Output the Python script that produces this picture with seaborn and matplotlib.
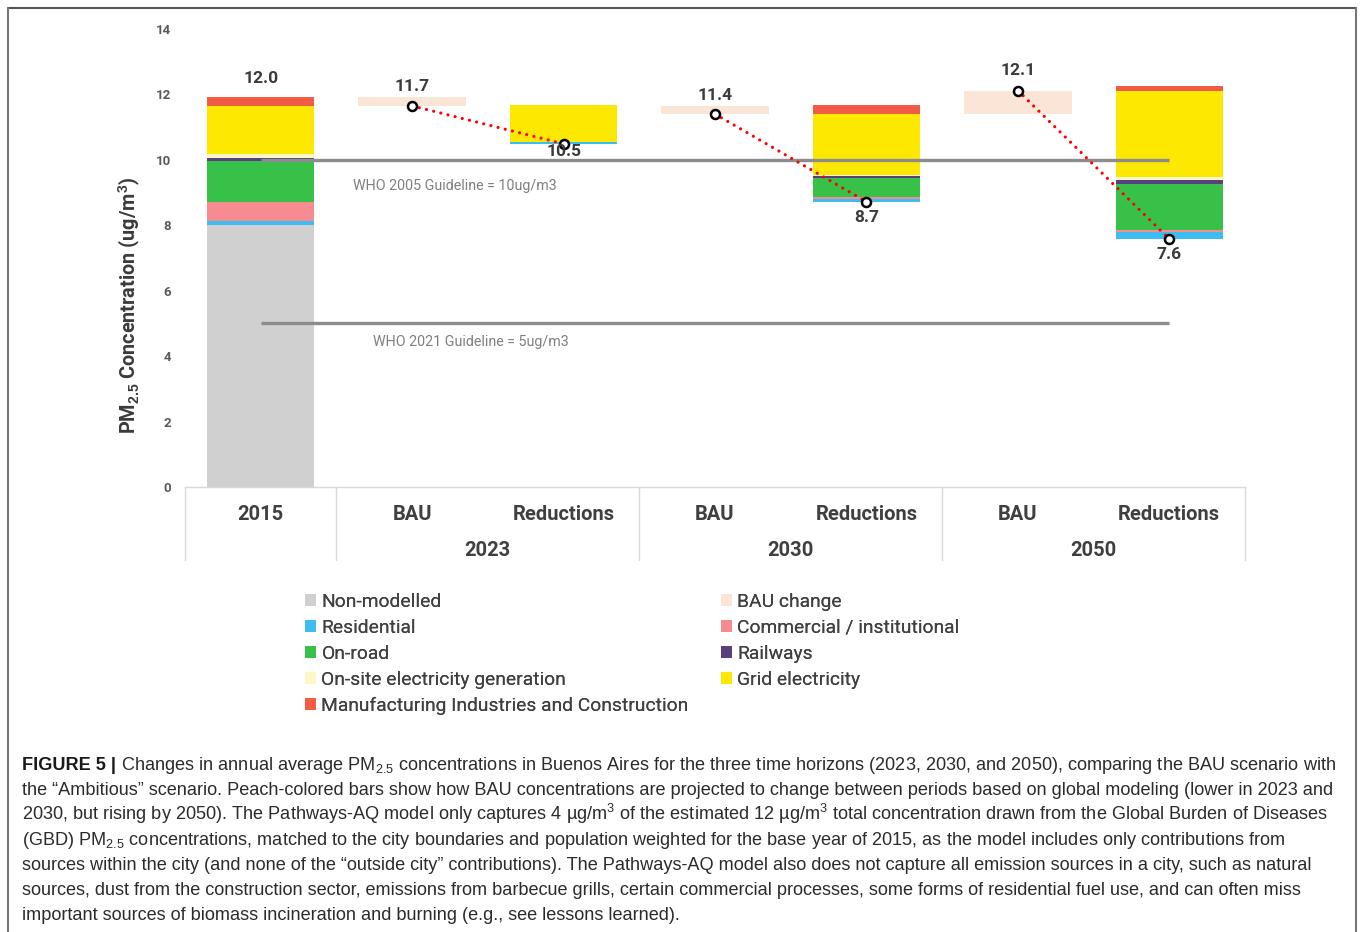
import matplotlib
matplotlib.use("Agg")
import matplotlib.pyplot as plt
import matplotlib.transforms as mtransforms
from matplotlib.patches import Patch
from matplotlib.lines import Line2D
import seaborn as sns
import numpy as np

# ---------------- data ----------------
categories = ["2015", "BAU 2023", "Reductions 2023", "BAU 2030",
              "Reductions 2030", "BAU 2050", "Reductions 2050"]
tick_labels = ["2015", "BAU", "Reductions", "BAU", "Reductions", "BAU", "Reductions"]
group_labels = ["2023", "2030", "2050"]

bar_base = [0.0, 11.65, 10.49, 11.40, 8.72, 11.40, 7.58]
non_modelled = [8.00, 0, 0, 0, 0, 0, 0]
bau_change = [0, 0.28, 0, 0.26, 0, 0.72, 0]
residential = [0.12, 0, 0.05, 0, 0.08, 0, 0.21]
commercial = [0.60, 0, 0.00, 0, 0.05, 0, 0.07]
on_road = [1.26, 0, 0.01, 0, 0.61, 0, 1.41]
railways = [0.07, 0, 0.00, 0, 0.05, 0, 0.12]
onsite = [0.13, 0, 0.00, 0, 0.02, 0, 0.08]
grid = [1.48, 0, 1.12, 0, 1.87, 0, 2.65]
manufacturing = [0.26, 0, 0.02, 0, 0.27, 0, 0.15]

scenario_cats = ["BAU 2023", "Reductions 2023", "BAU 2030",
                 "Reductions 2030", "BAU 2050", "Reductions 2050"]
scenario_values = [11.65, 10.49, 11.40, 8.72, 12.12, 7.58]
total_2015_label = "12.0"
scenario_labels = ["11.7", "10.5", "11.4", "8.7", "12.1", "7.6"]

guide_values = [10, 5]
guide_texts = ["WHO 2005 Guideline = 10ug/m3", "WHO 2021 Guideline = 5ug/m3"]

legend_names = ["Non-modelled", "Residential", "On-road", "On-site electricity generation",
                "Manufacturing Industries and Construction",
                "BAU change", "Commercial / institutional", "Railways", "Grid electricity"]

# ---------------- style ----------------
colors = {
    "Non-modelled": "#d0d0d0",
    "BAU change": "#fbe5d6",
    "Residential": "#3ebdf0",
    "Commercial / institutional": "#f68b92",
    "On-road": "#38c148",
    "Railways": "#59407c",
    "On-site electricity generation": "#fdf7c9",
    "Grid electricity": "#fce800",
    "Manufacturing Industries and Construction": "#f35c44",
}
stack = [("Non-modelled", non_modelled), ("BAU change", bau_change),
         ("Residential", residential), ("Commercial / institutional", commercial),
         ("On-road", on_road), ("Railways", railways),
         ("On-site electricity generation", onsite), ("Grid electricity", grid),
         ("Manufacturing Industries and Construction", manufacturing)]

sns.set_theme(style="white")
plt.rcParams["font.family"] = ["Roboto", "DejaVu Sans"]
plt.rcParams["mathtext.fontset"] = "custom"
plt.rcParams["mathtext.rm"] = "Liberation Sans"
plt.rcParams["mathtext.it"] = "Liberation Sans:italic"
plt.rcParams["mathtext.bf"] = "Liberation Sans:bold"

W, H = 1360, 932
fig = plt.figure(figsize=(W / 100, H / 100), dpi=100)
fig.patch.set_facecolor("white")
ax = fig.add_axes([185 / W, 1 - 487 / H, (1245 - 185) / W, (487 - 29) / H])

bottom = np.array(bar_base, dtype=float)
for name, vals in stack:
    sns.barplot(x=categories, y=vals, order=categories, color=colors[name],
                saturation=1, bottom=bottom, width=0.71, linewidth=0,
                errorbar=None, ax=ax, zorder=1)
    bottom = bottom + np.array(vals, dtype=float)

ax.set_xlim(-0.5, 6.5)
ax.set_ylim(0, 14)

# guideline lines
gtext_pos = [(0.61, 9.20), (0.74, 4.43)]
for gv, gt, (tx, ty) in zip(guide_values, guide_texts, gtext_pos):
    ax.hlines(gv, 0, 6, color="#8c8c8c", lw=2.4, zorder=3)
    ax.text(tx, ty, gt, fontsize=10.3, color="#7f7f7f", ha="left", va="center",
            family=["Roboto", "DejaVu Sans"])

# red dotted connectors and markers
xpos = [categories.index(c) for c in scenario_cats]
for i in range(0, 6, 2):
    ax.plot(xpos[i:i + 2], scenario_values[i:i + 2], color="#ff0000", lw=2.3,
            linestyle=(0, (0.01, 2.3)), dash_capstyle="round", zorder=4)
ax.plot(xpos, scenario_values, linestyle="none", marker="o", ms=6.5,
        mfc="white", mec="black", mew=1.8, zorder=5)

# value labels
lab_kw = dict(fontsize=12.5, fontweight="bold", color="#3a3a3a", ha="center", va="center",
              textcoords="offset points")
ax.annotate(total_2015_label, (0, bottom[0]), xytext=(0, 13.7), **lab_kw)
offsets = [13.7, -5.8, 13.7, -11.5, 14.4, -11.5]
for x, v, lab, off in zip(xpos, scenario_values, scenario_labels, offsets):
    ax.annotate(lab, (x, v), xytext=(0, off), zorder=6, **lab_kw)

# axes styling
for s in ["top", "right", "left"]:
    ax.spines[s].set_visible(False)
ax.spines["bottom"].set_color("#d9d9d9")
ax.spines["bottom"].set_linewidth(1.0)
ax.set_yticks(range(0, 15, 2))
ax.set_yticklabels([str(v) for v in range(0, 15, 2)], fontsize=9.5, fontweight="bold",
                   color="#595959")
ax.tick_params(axis="y", length=0, pad=10)
ax.set_xticks(range(len(categories)))
ax.set_xticklabels(tick_labels, fontsize=14.5, fontweight="bold", color="#3f3f3f")
ax.tick_params(axis="x", length=0, pad=13)
ax.set_xlabel("")
ax.set_ylabel(r"PM$_{\mathbf{2.5}}$ Concentration (ug/m$^{\mathbf{3}}$)",
              fontsize=14.3, fontweight="bold", color="#3a3a3a")
ax.yaxis.set_label_coords((129 - 185) / 1060, (487 - 305) / 458)
ax.yaxis.label.set_va("center")

# multi-level category frame
trans = mtransforms.blended_transform_factory(ax.transData, ax.transAxes)
for xv in [-0.5, 0.5, 2.5, 4.5, 6.5]:
    ax.add_line(Line2D([xv, xv], [0, -73 / 458], transform=trans, color="#d9d9d9",
                       lw=1.0, clip_on=False))
for gi, gl in enumerate(group_labels):
    ax.text(1.5 + 2 * gi, -63 / 458, gl, transform=trans, fontsize=14.5,
            fontweight="bold", color="#3f3f3f", ha="center", va="center")

# legends (two columns)
col1 = legend_names[:5]
col2 = legend_names[5:]
for names, xpx in [(col1, 305), (col2, 721)]:
    handles = [Patch(facecolor=colors[n], edgecolor="none", label=n) for n in names]
    leg = fig.legend(handles=handles, loc="upper left",
                     bbox_to_anchor=(xpx / W, 1 - 593 / H), frameon=False,
                     fontsize=13.9, handlelength=0.55, handleheight=0.55,
                     handletextpad=0.3, labelspacing=0.41, borderaxespad=0,
                     borderpad=0)
    for t in leg.get_texts():
        t.set_color("#404040")
    fig.add_artist(leg)

# caption
cap_font = ["Liberation Sans", "DejaVu Sans"]
cap_size = 13.05
cap_color = "#2b2b2b"
first_rest = (" Changes in annual average PM$_{2.5}$ concentrations in Buenos Aires for the "
              "three time horizons (2023, 2030, and 2050), comparing the BAU scenario with")
lines = [
    "the \u201cAmbitious\u201d scenario. Peach-colored bars show how BAU concentrations are "
    "projected to change between periods based on global modeling (lower in 2023 and",
    "2030, but rising by 2050). The Pathways-AQ model only captures 4 \u00b5g/m$^3$ of the "
    "estimated 12 \u00b5g/m$^3$ total concentration drawn from the Global Burden of Diseases",
    "(GBD) PM$_{2.5}$ concentrations, matched to the city boundaries and population weighted "
    "for the base year of 2015, as the model includes only contributions from",
    "sources within the city (and none of the \u201coutside city\u201d contributions). The "
    "Pathways-AQ model also does not capture all emission sources in a city, such as natural",
    "sources, dust from the construction sector, emissions from barbecue grills, certain "
    "commercial processes, some forms of residential fuel use, and can often miss",
    "important sources of biomass incineration and burning (e.g., see lessons learned).",
]
base0 = 770
fig_t = fig.text(22 / W, 1 - base0 / H, "FIGURE 5 |", family=cap_font, fontsize=cap_size,
                 fontweight="bold", color="#1a1a1a", ha="left", va="baseline")
renderer = fig.canvas.get_renderer()
bb = fig_t.get_window_extent(renderer)
fig.text(bb.x1 / W, 1 - base0 / H, first_rest, family=cap_font, fontsize=cap_size,
         color=cap_color, ha="left", va="baseline")
for i, ln in enumerate(lines):
    fig.text(22 / W, 1 - (base0 + 25 * (i + 1)) / H, ln, family=cap_font,
             fontsize=cap_size, color=cap_color, ha="left", va="baseline")

# border frame
for (x0, y0, x1, y1, c) in [(8, 8, 1356, 8, "#555555"), (8, 8, 8, 932, "#777777"),
                             (1356, 8, 1356, 932, "#777777")]:
    fig.add_artist(Line2D([x0 / W, x1 / W], [1 - y0 / H, 1 - y1 / H],
                          transform=fig.transFigure, color=c, lw=1.5))

fig.savefig("out.png", dpi=100, facecolor="white")
